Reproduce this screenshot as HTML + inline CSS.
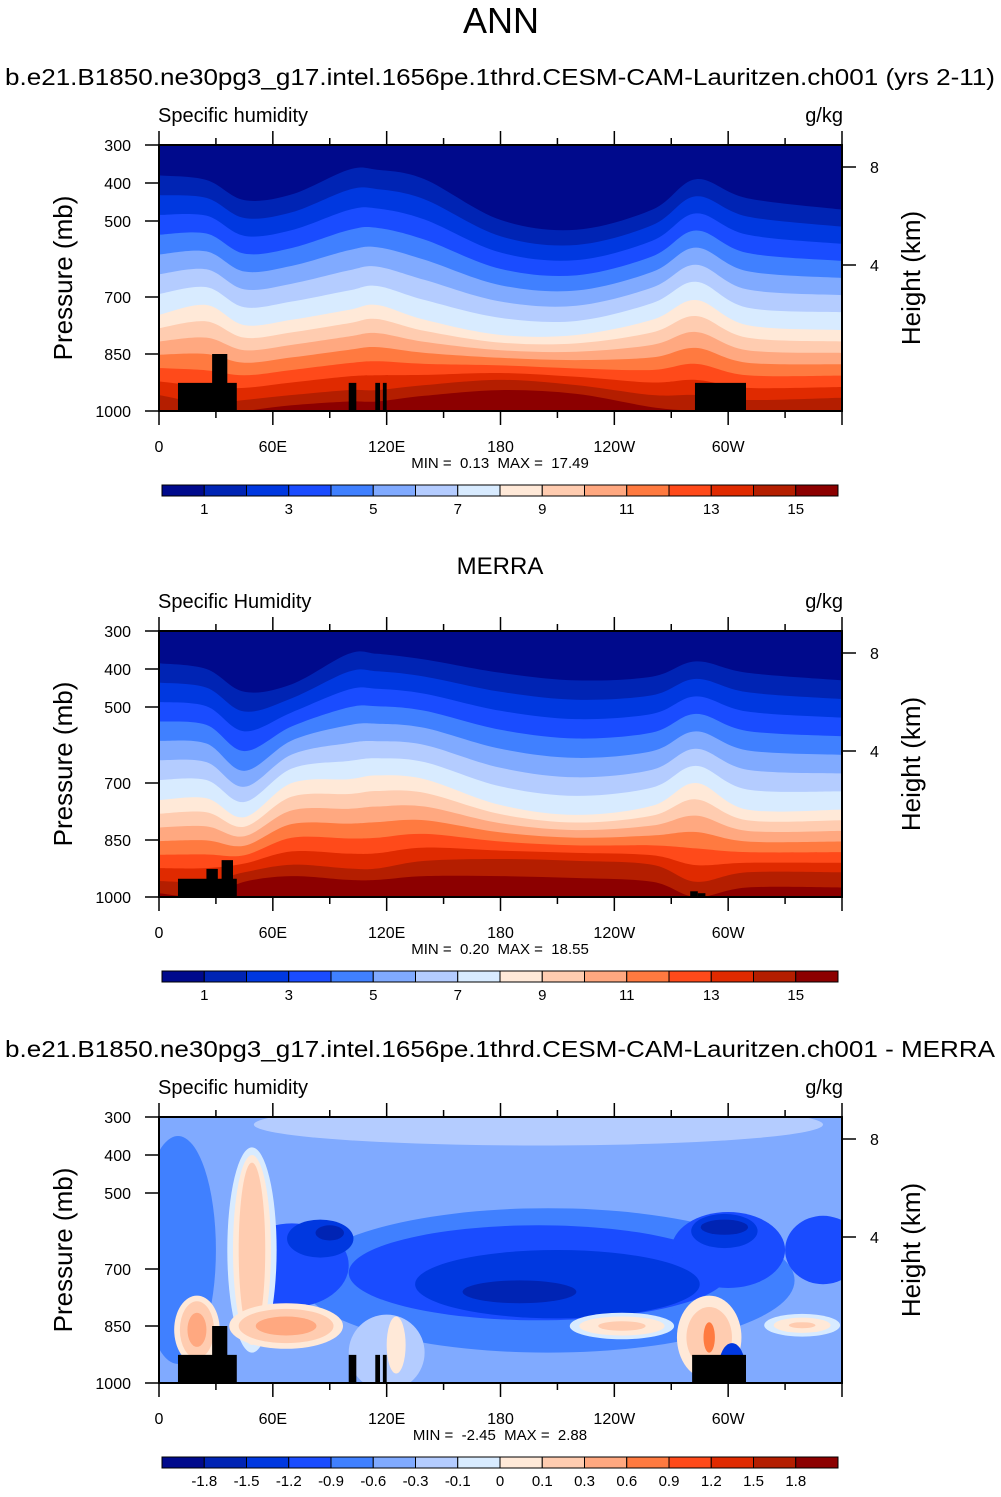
<!DOCTYPE html>
<html><head><meta charset="utf-8">
<style>
html,body{margin:0;padding:0;background:#fff;}
body{width:1001px;height:1492px;overflow:hidden;font-family:"Liberation Sans",Arial,sans-serif;}
svg text{font-family:"Liberation Sans",Arial,sans-serif;fill:#000;}
</style></head>
<body>
<svg id="chart" width="1001" height="1492" viewBox="0 0 1001 1492" xmlns="http://www.w3.org/2000/svg">
<text x="501" y="33" font-size="36" text-anchor="middle">ANN</text>
<text x="5" y="85" font-size="23" textLength="990" lengthAdjust="spacingAndGlyphs">b.e21.B1850.ne30pg3_g17.intel.1656pe.1thrd.CESM-CAM-Lauritzen.ch001 (yrs 2-11)</text>
<text x="500" y="574" font-size="24" text-anchor="middle">MERRA</text>
<text x="5" y="1057" font-size="23" textLength="990" lengthAdjust="spacingAndGlyphs">b.e21.B1850.ne30pg3_g17.intel.1656pe.1thrd.CESM-CAM-Lauritzen.ch001 - MERRA</text>
<g id="panels"></g>
</svg>
<script>
// ---- data ----
const colors = ["#000a8c","#0024b4","#0038e0","#1a4cff","#4080ff","#80aaff","#b4ccff","#d8ebff","#ffe9d8","#ffccb0","#ffa880","#ff7a40","#ff4a1a","#e02a00","#b41e00","#8c0000"];
const absLabels = ["1","","3","","5","","7","","9","","11","","13","","15"];
const diffLabels = ["-1.8","-1.5","-1.2","-0.9","-0.6","-0.3","-0.1","0","0.1","0.3","0.6","0.9","1.2","1.5","1.8"];
const lons = [0,25,45,70,100,115,140,180,220,260,283,310,360];
// panel 1 (model): pressure (mb) of contour levels 1..15
const modelLevels = [
 [380,392,445,430,365,365,390,497,523,470,390,440,470],
 [432,439,492,477,418,416,443,540,563,511,435,488,515],
 [484,486,539,524,471,467,496,583,603,552,480,536,560],
 [536,533,586,571,524,518,549,626,643,593,525,584,605],
 [588,580,633,618,577,569,602,669,683,634,570,632,650],
 [640,627,680,665,630,620,655,712,723,675,615,680,695],
 [692,674,727,712,683,671,708,755,763,716,660,728,740],
 [747,721,774,760,734,721,760,800,800,760,708,774,787],
 [782,764,807,793,769,758,789,820,822,793,750,807,817],
 [817,807,840,826,804,795,818,840,844,826,792,840,847],
 [852,850,873,859,839,832,847,860,866,859,834,873,877],
 [887,893,906,892,874,869,876,880,888,892,876,906,907],
 [922,936,939,925,909,906,905,900,910,925,918,939,937],
 [958,980,971,958,945,945,932,918,932,958,958,971,965],
 [1010,1010,1000,985,975,975,960,945,955,990,1000,1010,1010]
];
// panel 2 (MERRA)
const merraLevels = [
 [385,400,460,440,360,360,375,410,430,420,380,410,430],
 [436,449,512,477,407,406,420,460,481,469,426,461,479],
 [487,498,564,514,454,452,465,510,532,518,472,512,528],
 [538,547,616,551,501,498,510,560,583,567,518,563,577],
 [589,596,668,588,548,544,555,610,634,616,564,614,626],
 [640,645,710,625,595,590,600,660,685,665,610,665,675],
 [692,692,750,662,642,635,645,709,734,712,655,717,722],
 [745,740,790,700,690,680,690,758,784,760,700,770,770],
 [781,777,815,736,729,721,726,782,804,786,743,798,798],
 [817,814,840,772,768,762,762,806,824,812,786,826,826],
 [853,851,865,808,807,803,798,830,844,838,829,854,854],
 [889,888,890,844,846,844,834,854,864,864,872,882,882],
 [924,924,912,880,886,885,870,878,884,890,916,910,910],
 [958,960,935,915,925,925,905,900,905,915,960,935,935],
 [990,1000,960,945,955,955,945,945,950,960,1000,975,975]
];
// panel 3 (difference) blobs: center lon, center p, width (deg), height (mb), color index
const blobLon = [200,10,205,200,70,300,350,210,85,298,190,90,298,49,49,49,67,67,67,20,20,20,244,244,244,339,339,339,290,290,290,120,125,302];
const blobP   = [320,650,730,710,690,650,650,740,620,600,760,605,590,650,650,650,850,850,850,860,860,860,850,850,850,848,848,848,880,880,880,920,900,960];
const blobW   = [300,40,260,200,60,60,40,150,35,35,60,15,25,26,20,14,60,50,32,24,18,10,55,45,25,40,30,14,34,24,6,40,10,14];
const blobH   = [110,600,380,250,220,200,180,180,100,90,60,40,40,540,500,460,120,90,50,180,150,90,70,50,25,60,40,16,220,160,80,200,150,130];
const blobC   = [6,4,4,3,3,3,3,2,2,2,1,1,1,7,8,9,8,9,10,8,9,10,7,8,9,7,8,9,8,9,11,6,8,2];
// terrain masks: [lonStart, lonEnd, topPressure]
const terrainModel = [[10,41,926],[28,36,850],[100,104,926],[114,116.5,926],[118,120,926],[282.5,309.4,926]];
const terrainMerra = [[10,41,952],[25,31,926],[33,39,903],[280,284,985],[284,288,990]];
const terrainDiff  = [[10,41,926],[28,36,850],[100,104,926],[114,116.5,926],[118,120,926],[281,309.4,926]];
const minMax = [["0.13","17.49"],["0.20","18.55"],["-2.45","2.88"]];
const xTickLabels = ["0","60E","120E","180","120W","60W"];
const pTicks = [300,400,500,700,850,1000];
const hTicks = [[8,167],[4,265]];

// ---- drawing ----
const NS="http://www.w3.org/2000/svg";
const X0=159, X1=842;
function mk(tag,attrs,parent){const e=document.createElementNS(NS,tag);for(const k in attrs)e.setAttribute(k,attrs[k]);parent.appendChild(e);return e;}
const root=document.getElementById('panels');

function buildPanel(idx, top, fill){
  const Y0=top, Y1=top+266;
  const xs=lon=>X0+(lon/360)*(X1-X0);
  const ys=p=>Y0+(p-300)/700*(Y1-Y0);
  const g=mk('g',{},root);
  
  
  const cp=mk('clipPath',{id:'clip'+idx},g);
  mk('rect',{x:X0,y:Y0,width:X1-X0,height:Y1-Y0},cp);
  const plot=mk('g',{'clip-path':'url(#clip'+idx+')'},g);
  
  
  fill(plot,xs,ys,Y0,Y1);
  const fr=mk('rect',{x:X0,y:Y0,width:X1-X0,height:Y1-Y0,fill:'none',stroke:'#000','stroke-width':2},g);
  
  
  const t1=mk('text',{x:158,y:top-23,'font-size':20},g); t1.textContent= idx===1?'Specific Humidity':'Specific humidity';
   
  const t2=mk('text',{x:843,y:top-23,'font-size':20,'text-anchor':'end'},g); t2.textContent='g/kg';
   
  pTicks.forEach(p=>{
    const y=ys(p);
    mk('line',{x1:X0-14,x2:X0,y1:y,y2:y,stroke:'#000','stroke-width':1.5},g);
    const t=mk('text',{x:131,y:y+6,'font-size':16,'text-anchor':'end'},g); t.textContent=p;
     
  });
  const pt=mk('text',{x:0,y:0,'font-size':26,'text-anchor':'middle',transform:`translate(72,${top+133}) rotate(-90)`},g);
  pt.textContent='Pressure (mb)';
   
  hTicks.forEach(h=>{
    const y=top+(h[1]-145);
    mk('line',{x1:X1,x2:X1+14,y1:y,y2:y,stroke:'#000','stroke-width':1.5},g);
    const t=mk('text',{x:870,y:y+6,'font-size':16},g); t.textContent=h[0];
     
  });
  const ht=mk('text',{x:0,y:0,'font-size':26,'text-anchor':'middle',transform:`translate(920,${top+133}) rotate(-90)`},g);
  ht.textContent='Height (km)';
   
  for(let lon=0;lon<=360;lon+=30){
    const x=xs(lon), major=lon%60===0, L=major?14:7;
    mk('line',{x1:x,x2:x,y1:Y1,y2:Y1+L,stroke:'#000','stroke-width':1.5},g);
    mk('line',{x1:x,x2:x,y1:Y0,y2:Y0-L,stroke:'#000','stroke-width':1.5},g);
  }
  xTickLabels.forEach((lb,i)=>{
    const t=mk('text',{x:xs(i*60),y:Y1+41,'font-size':16,'text-anchor':'middle'},g); t.textContent=lb;
     
  });
  const mm=mk('text',{x:500,y:Y1+57,'font-size':15,'text-anchor':'middle','xml:space':'preserve'},g);
  mm.setAttribute('style','white-space:pre');
  mm.textContent=`MIN =  ${minMax[idx][0]}  MAX =  ${minMax[idx][1]}`;
   
  const cb=mk('g',{},g);
   
  const cy=top+340, cx0=162, bw=(838-162)/16;
  colors.forEach((c,i)=>{
    const r=mk('rect',{x:cx0+i*bw,y:cy,width:bw,height:11,fill:c,stroke:'#000','stroke-width':1},cb);
     
  });
  const labs= idx===2?diffLabels:absLabels;
  labs.forEach((lb,i)=>{
    if(!lb) return;
    const t=mk('text',{x:cx0+(i+1)*bw,y:cy+29,'font-size':15,'text-anchor':'middle'},cb); t.textContent=lb;
     
  });
}

function smoothPath(pts){
  let d=`M${pts[0][0]},${pts[0][1]}`;
  for(let i=0;i<pts.length-1;i++){
    const p0=pts[Math.max(0,i-1)],p1=pts[i],p2=pts[i+1],p3=pts[Math.min(pts.length-1,i+2)];
    const c1=[p1[0]+(p2[0]-p0[0])/6,p1[1]+(p2[1]-p0[1])/6];
    const c2=[p2[0]-(p3[0]-p1[0])/6,p2[1]-(p3[1]-p1[1])/6];
    d+=` C${c1[0]},${c1[1]} ${c2[0]},${c2[1]} ${p2[0]},${p2[1]}`;
  }
  return d;
}
function contourFill(levels,terrain){
  return (plot,xs,ys,Y0,Y1)=>{
    const bg=mk('rect',{x:X0,y:Y0,width:X1-X0,height:Y1-Y0,fill:colors[0]},plot);
     
    levels.forEach((lev,k)=>{
      const pts=lons.map((lon,i)=>[xs(lon),ys(lev[i])]);
      const d=smoothPath(pts)+` L${X1+2},${Y1+5} L${X0-2},${Y1+5} Z`;
      const p=mk('path',{d:d,fill:colors[k+1]},plot);
       
    });
    drawTerrain(plot,xs,ys,Y1,terrain);
  };
}
function drawTerrain(plot,xs,ys,Y1,terrain){
  terrain.forEach(t=>{
    const r=mk('rect',{x:xs(t[0]),y:ys(t[2]),width:xs(t[1])-xs(t[0]),height:Y1-ys(t[2])+2,fill:'#000'},plot);
     
  });
}
function diffFill(plot,xs,ys,Y0,Y1){
  const bg=mk('rect',{x:X0,y:Y0,width:X1-X0,height:Y1-Y0,fill:colors[5]},plot);
   
  blobLon.forEach((lon,i)=>{
    const cx=xs(lon), cy=ys(blobP[i]);
    const rx=(xs(blobW[i])-xs(0))/2, ry=(ys(300+blobH[i])-ys(300))/2;
    const e=mk('ellipse',{cx:cx,cy:cy,rx:rx,ry:ry,fill:colors[blobC[i]]},plot);
     
  });
  drawTerrain(plot,xs,ys,Y1,terrainDiff);
}
buildPanel(0,145,contourFill(modelLevels,terrainModel));
buildPanel(1,631,contourFill(merraLevels,terrainMerra));
buildPanel(2,1117,diffFill);
</script>
</body></html>
